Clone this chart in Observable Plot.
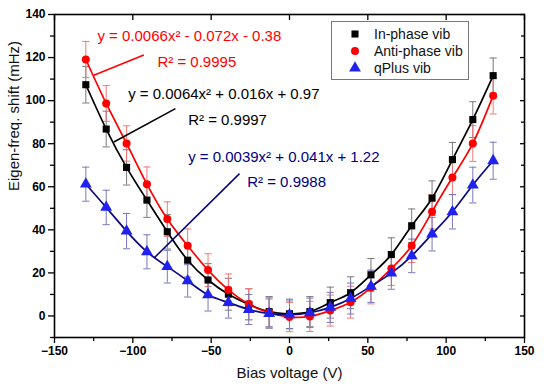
<!DOCTYPE html>
<html>
<head>
<meta charset="utf-8">
<script src="https://cdn.jsdelivr.net/npm/d3@7"></script>
<script src="https://cdn.jsdelivr.net/npm/@observablehq/plot@0.6"></script>
<style>
  html, body { margin: 0; padding: 0; background: #fff; }
  #chart svg { display: block; }
  #chart g[aria-label="x-axis tick label"], #chart g[aria-label="y-axis tick label"] { font-weight: bold; }
</style>
</head>
<body>
<div id="chart"></div>
<script>
// ---- data ----
const biasVoltage = [-130,-117,-104,-91,-78,-65,-52,-39,-26,-13,0,13,26,39,52,65,78,91,104,117,130];
const inPhase   = [107.4, 86.8, 69.0, 53.8, 39.1, 25.9, 16.7, 10.1, 5.4, 2.0, 1.0, 2.0, 6.2, 10.8, 19.1, 28.5, 41.9, 54.7, 72.6, 91.2, 111.6];
const antiPhase = [119.1, 98.7, 80.1, 61.2, 45.0, 32.6, 21.3, 12.1, 5.5, 1.5, -0.5, -0.2, 2.5, 6.4, 13.2, 22.0, 32.6, 48.4, 64.3, 80.1, 102.3];
const qPlus     = [61.2, 50.4, 39.4, 29.8, 22.9, 16.3, 9.8, 6.2, 3.0, 1.1, 0.5, 1.5, 4.0, 8.1, 13.8, 19.9, 27.9, 38.0, 48.4, 60.8, 72.1];
const inPhaseErr   = [8.5, 8.3, 8.2, 8.0, 8.0, 7.8, 7.6, 7.4, 7.2, 7.0, 6.8, 7.0, 7.2, 7.4, 7.6, 7.8, 7.8, 8.0, 8.0, 8.3, 8.2];
const antiPhaseErr = [8.4, 8.3, 8.2, 8.0, 8.0, 7.8, 7.6, 7.4, 7.2, 7.0, 6.8, 7.0, 7.2, 7.4, 7.6, 7.8, 7.8, 8.0, 8.0, 8.3, 8.5];
const qPlusErr     = [7.9, 8.0, 8.2, 7.9, 7.6, 7.5, 7.5, 7.2, 7.0, 6.8, 6.5, 6.8, 7.0, 7.2, 7.5, 7.5, 7.8, 7.8, 8.0, 8.3, 8.6];

const seriesNames = ["In-phase vib", "Anti-phase vib", "qPlus vib"];
const xTicks = [-150, -100, -50, 0, 50, 100, 150];
const xMinor = [-125, -75, -25, 25, 75, 125];
const yTicks = [0, 20, 40, 60, 80, 100, 120, 140];
const yMinor = [-10, 10, 30, 50, 70, 90, 110, 130];

// fit annotations (text + pointer lines), positions in data units
const fitText = ["y = 0.0066x² - 0.072x - 0.38", "y = 0.0064x² + 0.016x + 0.97", "y = 0.0039x² + 0.041x + 1.22"];
const r2Text  = ["R² = 0.9995", "R² = 0.9997", "R² = 0.9988"];
const fitTextX = [-122.6, -103.0, -64.7];
const fitTextY = [129.8, 103.0, 73.9];
const r2TextX  = [-84.3, -64.7, -27.0];
const r2TextY  = [118.0, 91.0, 61.9];
const pointerX1 = [-124.9, -112.1, -86.2];
const pointerY1 = [111.8, 80.8, 27.1];
const pointerX2 = [-93.0, -72.8, -31.9];
const pointerY2 = [121.2, 96.3, 66.1];
const annColors = ["#ff0000", "#000000", "#000080"];

// ---- style ----
const lineColors = {"In-phase vib": "#000000", "Anti-phase vib": "#ff0000", "qPlus vib": "#0a0a80"};
const dotColors  = {"In-phase vib": "#000000", "Anti-phase vib": "#ff0000", "qPlus vib": "#2222ee"};
const errColors  = {"In-phase vib": "#7a7a7a", "Anti-phase vib": "#f07878", "qPlus vib": "#7878c0"};
const symbols    = {"In-phase vib": "square", "Anti-phase vib": "circle", "qPlus vib": "triangle"};
const radii      = {"In-phase vib": 4.0, "Anti-phase vib": 4.0, "qPlus vib": 4.4};

const valueArrays = [inPhase, antiPhase, qPlus];
const errArrays = [inPhaseErr, antiPhaseErr, qPlusErr];
const rows = [];
seriesNames.forEach((s, i) => {
  biasVoltage.forEach((x, j) => {
    rows.push({series: s, x, y: valueArrays[i][j], err: errArrays[i][j]});
  });
});
const annotations = annColors.map((c, i) => ({
  color: c, fit: fitText[i], r2: r2Text[i],
  fx: fitTextX[i], fy: fitTextY[i], rx: r2TextX[i], ry: r2TextY[i],
  x1: pointerX1[i], y1: pointerY1[i], x2: pointerX2[i], y2: pointerY2[i]
}));

const FONT = "'Liberation Sans', Arial, Helvetica, sans-serif";
const capHalf = 2.3;
const blank = () => "";

const marks = [
  // axes
  Plot.axisX({ticks: xTicks, tickSize: 6, tickPadding: 3, fontSize: 12, fontWeight: "bold", label: null, strokeWidth: 1.3}),
  Plot.axisX({ticks: xMinor, tickSize: 4, tickFormat: blank, label: null, strokeWidth: 1.3}),
  Plot.axisX({anchor: "top", ticks: xTicks, tickSize: 5, dy: 5, tickFormat: blank, label: null, strokeWidth: 1.3}),
  Plot.axisY({ticks: yTicks, tickSize: 6, tickPadding: 3, fontSize: 12, fontWeight: "bold", label: null, strokeWidth: 1.3}),
  Plot.axisY({ticks: yMinor, tickSize: 4, tickFormat: blank, label: null, strokeWidth: 1.3}),
  Plot.axisY({anchor: "right", ticks: yTicks, tickSize: 5, dx: -5, tickFormat: blank, label: null, strokeWidth: 1.3}),
  Plot.axisY({anchor: "right", ticks: yMinor.filter(v => v > -10), tickSize: 4, dx: -4, tickFormat: blank, label: null, strokeWidth: 1.3}),
  Plot.frame({stroke: "#000", strokeWidth: 1.6}),
  // axis titles
  Plot.text(["Bias voltage (V)"], {frameAnchor: "bottom", dy: 36, lineAnchor: "middle", text: d => d, fontSize: 15, fill: "#111"}),
  Plot.text(["Eigen-freq. shift (mHz)"], {frameAnchor: "left", dx: -40, dy: 15, rotate: -90, lineAnchor: "middle", text: d => d, fontSize: 15, fill: "#111"}),
];

// error bars
seriesNames.forEach(s => {
  const d = rows.filter(r => r.series === s);
  const c = errColors[s];
  marks.push(Plot.ruleX(d, {x: "x", y1: r => r.y - r.err, y2: r => r.y + r.err, stroke: c, strokeWidth: 1}));
  marks.push(Plot.link(d, {x1: r => r.x - capHalf, x2: r => r.x + capHalf, y1: r => r.y + r.err, y2: r => r.y + r.err, stroke: c, strokeWidth: 1}));
  marks.push(Plot.link(d, {x1: r => r.x - capHalf, x2: r => r.x + capHalf, y1: r => r.y - r.err, y2: r => r.y - r.err, stroke: c, strokeWidth: 1}));
});
// curves
seriesNames.forEach(s => {
  const d = rows.filter(r => r.series === s);
  marks.push(Plot.line(d, {x: "x", y: "y", stroke: lineColors[s], strokeWidth: 1.7, curve: "natural"}));
});
// points
seriesNames.forEach(s => {
  const d = rows.filter(r => r.series === s);
  marks.push(Plot.dot(d, {x: "x", y: "y", symbol: symbols[s], r: radii[s], fill: dotColors[s], stroke: "none"}));
});
// fit annotations
marks.push(Plot.link(annotations, {x1: "x1", y1: "y1", x2: "x2", y2: "y2", stroke: "color", strokeWidth: 1.5}));
marks.push(Plot.text(annotations, {x: "fx", y: "fy", text: "fit", fill: "color", textAnchor: "start", lineAnchor: "middle", fontSize: 15}));
marks.push(Plot.text(annotations, {x: "rx", y: "ry", text: "r2", fill: "color", textAnchor: "start", lineAnchor: "middle", fontSize: 15}));

const chart = Plot.plot({
  width: 544, height: 387,
  marginLeft: 54, marginRight: 20, marginTop: 14, marginBottom: 50,
  x: {domain: [-150, 150]},
  y: {domain: [-10, 140]},
  style: {fontFamily: FONT, background: "#fff", color: "#000"},
  marks
});
document.getElementById("chart").append(chart);

// legend inside the plot (upper right)
const svg = d3.select(chart);
const lg = svg.append("g").attr("font-family", FONT).attr("font-size", 14).attr("text-anchor", "start");
lg.append("rect").attr("x", 331.5).attr("y", 21.5).attr("width", 137).attr("height", 58)
  .attr("fill", "#fff").attr("stroke", "#777").attr("stroke-width", 1);
const symMap = {square: d3.symbolSquare, circle: d3.symbolCircle, triangle: d3.symbolTriangle};
seriesNames.forEach((s, i) => {
  const cy = 34 + i * 17;
  const r = radii[s];
  lg.append("path")
    .attr("d", d3.symbol(symMap[symbols[s]], Math.PI * r * r)())
    .attr("transform", `translate(355,${cy})`)
    .attr("fill", dotColors[s]);
  lg.append("text").attr("x", 374).attr("y", cy).attr("dy", "0.35em").attr("text-anchor", "start").attr("fill", "#111").text(s);
});
</script>
</body>
</html>
